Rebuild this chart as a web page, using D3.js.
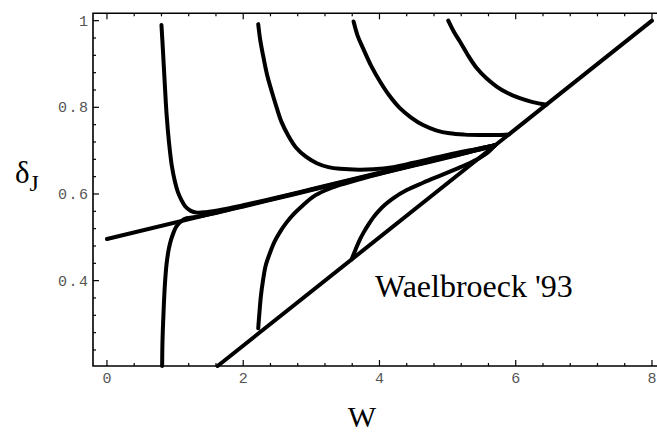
<!DOCTYPE html>
<html><head><meta charset="utf-8">
<script src="https://cdn.jsdelivr.net/npm/d3@7"></script>
<style>body{margin:0;background:#fff}</style>
</head><body><svg id="c" width="657" height="434"></svg>
<script>
// ---- data (W, delta_J) ----
const xTicks = [0, 2, 4, 6, 8];
const yTicks = [0.4, 0.6, 0.8, 1];
const yTickLabels = ["0.4", "0.6", "0.8", "1"];
const diagonal = [[1.624, 0.203], [8.0, 1.0]];
const separatrix = [[0, 0.496], [5.70, 0.7125]];
const curveTop1 = [[0.80,0.99],[0.82,0.936],[0.85,0.85],[0.876,0.782],[0.91,0.72],[0.95,0.667],[1.0,0.627],[1.04,0.605],[1.09,0.587],[1.15,0.571],[1.23,0.561],[1.32,0.557],[1.45,0.558],[1.7,0.564],[2.0,0.574],[2.5,0.592],[3.0,0.611],[3.5,0.630],[4.0,0.649],[4.5,0.668],[5.0,0.687],[5.4,0.702],[5.7,0.7125]];
const curveTop2 = [[2.22,0.992],[2.25,0.955],[2.29,0.921],[2.35,0.875],[2.42,0.836],[2.49,0.80],[2.56,0.767],[2.66,0.735],[2.78,0.706],[2.92,0.686],[3.08,0.671],[3.25,0.662],[3.42,0.658],[3.7,0.656],[3.91,0.657],[4.2,0.662],[4.5,0.672],[5.0,0.690],[5.4,0.703],[5.7,0.7125]];
const curveTop3 = [[3.62,0.998],[3.68,0.965],[3.76,0.936],[3.88,0.895],[4.01,0.859],[4.15,0.826],[4.30,0.798],[4.46,0.777],[4.64,0.759],[4.83,0.747],[5.03,0.740],[5.25,0.737],[5.48,0.736],[5.7,0.736],[5.9,0.7375]];
const curveTop4 = [[5.01,1.0],[5.09,0.975],[5.18,0.952],[5.30,0.92],[5.43,0.89],[5.57,0.867],[5.72,0.848],[5.88,0.833],[6.06,0.821],[6.25,0.812],[6.45,0.806]];
const curveBottom1 = [[0.81,0.203],[0.815,0.26],[0.83,0.325],[0.85,0.39],[0.876,0.44],[0.91,0.475],[0.94,0.494],[0.98,0.512],[1.02,0.525],[1.09,0.537],[1.17,0.544],[1.3,0.547],[1.5,0.553],[2.0,0.571],[2.5,0.590],[3.0,0.609],[3.5,0.628],[4.0,0.647],[4.5,0.666],[5.0,0.685],[5.4,0.700],[5.7,0.7125]];
const curveBottom2 = [[2.22,0.29],[2.24,0.33],[2.26,0.365],[2.29,0.40],[2.33,0.435],[2.39,0.463],[2.46,0.49],[2.55,0.515],[2.64,0.535],[2.73,0.552],[2.87,0.573],[3.03,0.594],[3.2,0.608],[3.42,0.621],[3.8,0.638],[4.2,0.654],[4.6,0.669],[5.0,0.684],[5.4,0.700],[5.7,0.7125]];
const curveBottom3 = [[3.59,0.449],[3.65,0.472],[3.71,0.494],[3.77,0.512],[3.84,0.530],[3.91,0.546],[3.99,0.561],[4.08,0.575],[4.2,0.590],[4.4,0.609],[4.64,0.626],[4.9,0.643],[5.13,0.658],[5.32,0.671],[5.48,0.684],[5.6,0.697],[5.7,0.7125]];
const curves = [diagonal, separatrix, curveTop1, curveTop2, curveTop3, curveTop4, curveBottom1, curveBottom2, curveBottom3];
const annotation = "Waelbroeck '93";

// ---- drawing ----
const svg = d3.select("#c");
const x = d3.scaleLinear().domain([-0.205, 8.2]).range([93, 665.6]);
const y = d3.scaleLinear().domain([0.203, 1.017]).range([366, 13.3]);

const line = d3.line().x(d => x(d[0])).y(d => y(d[1])).curve(d3.curveCatmullRom.alpha(0.5));
svg.append("g").selectAll("path").data(curves).join("path")
  .attr("d", line).attr("fill", "none").attr("stroke", "#000")
  .attr("stroke-width", 4).attr("stroke-linecap", "round").attr("stroke-linejoin", "round");

// frame
const x0 = x.range()[0], x1 = x.range()[1], yb = y.range()[0], yt = y.range()[1];
const frame = svg.append("g");
frame.append("path").attr("d", `M${x0},${yt}H${x1}V${yb}H${x0}Z`).attr("fill", "none").attr("stroke", "#000").attr("stroke-width", 1.6);

const minorX = d3.range(0, 8.01, 0.4).filter(v => !xTicks.some(t => Math.abs(t - v) < 1e-6));
const minorY = d3.range(0.24, 1.001, 0.04).filter(v => !yTicks.some(t => Math.abs(t - v) < 1e-6));
const tk = frame.append("g").attr("stroke", "#000").attr("stroke-width", 1.2);
xTicks.forEach(v => { tk.append("line").attr("x1", x(v)).attr("x2", x(v)).attr("y1", yb).attr("y2", yb - 6);
                      tk.append("line").attr("x1", x(v)).attr("x2", x(v)).attr("y1", yt).attr("y2", yt + 6); });
minorX.forEach(v => { tk.append("line").attr("x1", x(v)).attr("x2", x(v)).attr("y1", yb).attr("y2", yb - 3);
                      tk.append("line").attr("x1", x(v)).attr("x2", x(v)).attr("y1", yt).attr("y2", yt + 3); });
yTicks.forEach(v => { tk.append("line").attr("y1", y(v)).attr("y2", y(v)).attr("x1", x0).attr("x2", x0 + 6); });
minorY.forEach(v => { tk.append("line").attr("y1", y(v)).attr("y2", y(v)).attr("x1", x0).attr("x2", x0 + 3); });

const tf = "'Liberation Mono','Courier New',monospace";
svg.append("g").selectAll("text").data(xTicks).join("text")
  .attr("x", d => x(d)).attr("y", 383).attr("text-anchor", "middle")
  .attr("font-family", tf).attr("font-size", 15).attr("fill", "#555").text(d => d);
svg.append("g").selectAll("text").data(yTicks).join("text")
  .attr("x", 89.5).attr("y", d => y(d) + 5).attr("text-anchor", "end")
  .attr("font-family", tf).attr("font-size", 15).attr("letter-spacing", 1.5).attr("fill", "#555")
  .text((d, i) => yTickLabels[i]);

const sf = "'Liberation Serif','Times New Roman',serif";
svg.append("text").attr("x", 362).attr("y", 427).attr("text-anchor", "middle")
  .attr("font-family", sf).attr("font-size", 30).text("W");
const yl = svg.append("text").attr("x", 15).attr("y", 183).attr("font-family", sf).attr("font-size", 31);
yl.append("tspan").text("δ");
yl.append("tspan").attr("dy", 8).attr("font-size", 24).text("J");
svg.append("text").attr("x", 375).attr("y", 297).attr("font-family", sf).attr("font-size", 32).text(annotation);
</script></body></html>
